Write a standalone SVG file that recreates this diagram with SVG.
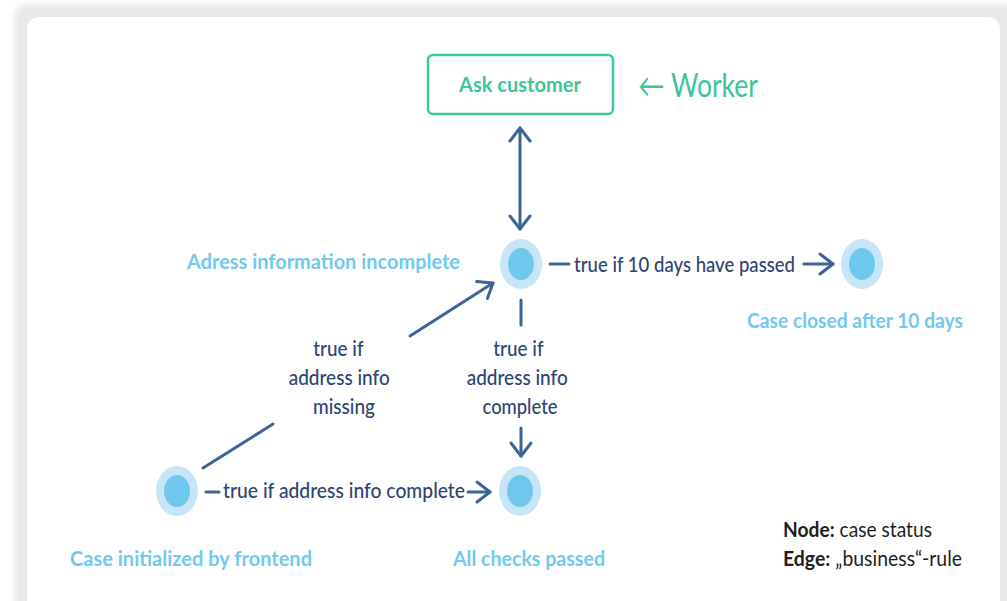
<svg xmlns="http://www.w3.org/2000/svg" width="1007" height="601" viewBox="0 0 1007 601">
  <defs>
    <filter id="soft" x="-5%" y="-5%" width="110%" height="110%">
      <feGaussianBlur stdDeviation="3"/>
    </filter>
    <marker id="chev" viewBox="-16 -13 19 26" markerWidth="19" markerHeight="26" refX="0" refY="0" markerUnits="userSpaceOnUse" orient="auto-start-reverse">
      <path d="M-13,-10 L0,0 L-13,10" fill="none" stroke="#3d6496" stroke-width="3" stroke-linecap="round" stroke-linejoin="round"/>
    </marker>
    <style>
      .line { stroke: #3d6496; stroke-width: 3; stroke-linecap: round; fill: none; }
      .arrow { marker-end: url(#chev); }
      .outer { fill: #c6e5f7; }
      .inner { fill: #6ec8ee; }
      .state { font-family: "Lato", "Liberation Sans", sans-serif; font-weight: bold; font-size: 20px; fill: #72c8ee; }
      .rule { font-family: "Lato", "Liberation Sans", sans-serif; font-size: 22px; font-weight: 500; fill: #2e4473; }
      .green { font-family: "Lato", "Liberation Sans", sans-serif; fill: #3dc49b; }
      .legend { font-family: "Lato", "Liberation Sans", sans-serif; font-size: 21px; fill: #1e1e1e; }
    </style>
  </defs>

  <!-- page and card -->
  <rect width="1007" height="601" fill="#ffffff"/>
  <rect x="15" y="4" width="1010" height="620" rx="14" fill="#e8e8e8" filter="url(#soft)"/>
  <rect x="27" y="17" width="973" height="620" rx="12" fill="#ffffff"/>

  <!-- worker task -->
  <g id="ask-customer">
    <rect x="428" y="55" width="185" height="59" rx="5" fill="#ffffff" stroke="#3fc79b" stroke-width="2.5"/>
    <text class="green" x="459" y="92" font-size="21" font-weight="bold" textLength="122" lengthAdjust="spacingAndGlyphs">Ask customer</text>
  </g>
  <g id="worker-note">
    <text class="green" x="638" y="97" font-size="32" textLength="120" lengthAdjust="spacingAndGlyphs">← Worker</text>
  </g>

  <!-- states -->
  <g id="address-incomplete">
    <ellipse class="outer" cx="521" cy="264" rx="21" ry="25"/>
    <ellipse class="inner" cx="521" cy="264" rx="13" ry="16"/>
    <text class="state" x="187" y="269" textLength="273" lengthAdjust="spacingAndGlyphs">Adress information incomplete</text>
  </g>
  <g id="case-closed">
    <ellipse class="outer" cx="862" cy="264" rx="21" ry="25"/>
    <ellipse class="inner" cx="862" cy="264" rx="13" ry="16"/>
    <text class="state" x="747" y="328" textLength="216" lengthAdjust="spacingAndGlyphs">Case closed after 10 days</text>
  </g>
  <g id="case-initialized">
    <ellipse class="outer" cx="177" cy="491" rx="21" ry="25"/>
    <ellipse class="inner" cx="177" cy="491" rx="13" ry="16"/>
    <text class="state" x="70" y="566" textLength="242" lengthAdjust="spacingAndGlyphs">Case initialized by frontend</text>
  </g>
  <g id="all-checks-passed">
    <ellipse class="outer" cx="520" cy="491" rx="21" ry="25"/>
    <ellipse class="inner" cx="520" cy="491" rx="13" ry="16"/>
    <text class="state" x="453" y="566" textLength="152" lengthAdjust="spacingAndGlyphs">All checks passed</text>
  </g>

  <!-- rules between states -->
  <g id="connectors">
    <!-- ask customer <-> address incomplete -->
    <line class="line" x1="520" y1="128" x2="520" y2="229" marker-start="url(#chev)" marker-end="url(#chev)"/>

    <!-- address incomplete -> case closed -->
    <line class="line" x1="550" y1="264" x2="569" y2="264"/>
    <text class="rule" x="574" y="272" textLength="221" lengthAdjust="spacingAndGlyphs">true if 10 days have passed</text>
    <line class="line arrow" x1="804" y1="264" x2="833" y2="264"/>

    <!-- address incomplete -> all checks passed -->
    <line class="line" x1="521" y1="300" x2="521" y2="325"/>
    <text class="rule" text-anchor="middle">
      <tspan x="521" y="356" textLength="50" lengthAdjust="spacingAndGlyphs">true if</tspan>
      <tspan x="520" y="385" textLength="101" lengthAdjust="spacingAndGlyphs">address info</tspan>
      <tspan x="520" y="414" textLength="75" lengthAdjust="spacingAndGlyphs">complete</tspan>
    </text>
    <line class="line arrow" x1="521" y1="428" x2="521" y2="456"/>

    <!-- case initialized -> address incomplete -->
    <line class="line" x1="203" y1="468" x2="273" y2="424"/>
    <text class="rule" text-anchor="middle">
      <tspan x="341" y="356" textLength="50" lengthAdjust="spacingAndGlyphs">true if</tspan>
      <tspan x="342" y="385" textLength="101" lengthAdjust="spacingAndGlyphs">address info</tspan>
      <tspan x="344" y="414" textLength="62" lengthAdjust="spacingAndGlyphs">missing</tspan>
    </text>
    <line class="line arrow" x1="410" y1="336" x2="493" y2="283"/>

    <!-- case initialized -> all checks passed -->
    <line class="line" x1="206" y1="492" x2="219" y2="492"/>
    <text class="rule" x="223" y="498" textLength="242" lengthAdjust="spacingAndGlyphs">true if address info complete</text>
    <line class="line arrow" x1="468" y1="492" x2="490" y2="492"/>
  </g>

  <!-- legend -->
  <g id="legend">
    <text class="legend" x="783" y="537" textLength="149" lengthAdjust="spacingAndGlyphs"><tspan font-weight="bold">Node:</tspan> case status</text>
    <text class="legend" x="783" y="566" textLength="179" lengthAdjust="spacingAndGlyphs"><tspan font-weight="bold">Edge:</tspan> „business“-rule</text>
  </g>
</svg>
